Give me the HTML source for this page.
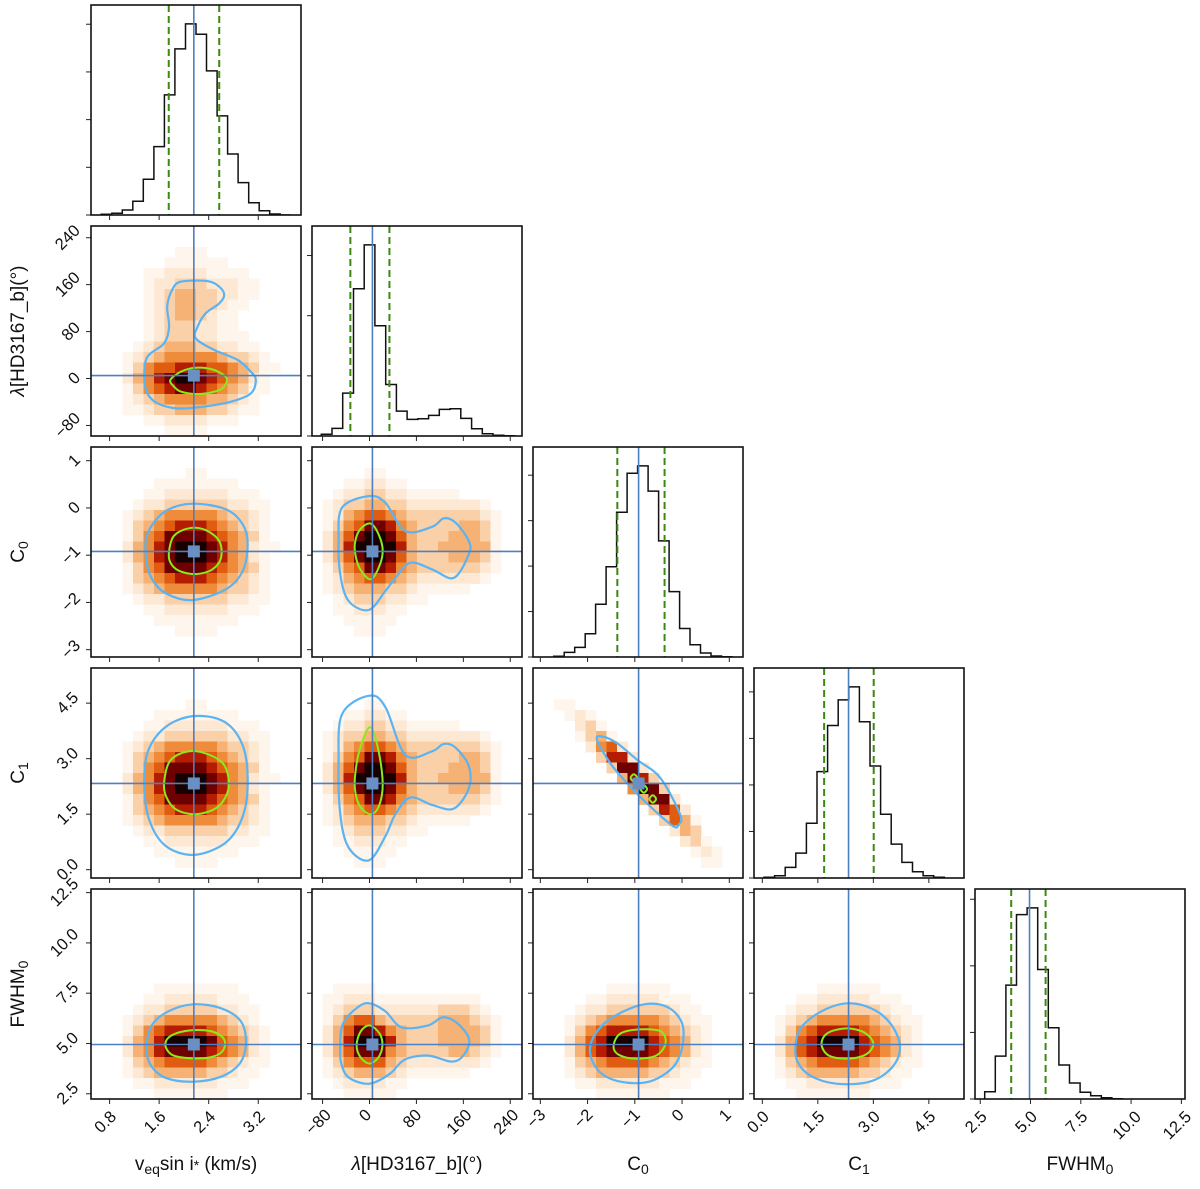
<!DOCTYPE html>
<html><head><meta charset="utf-8"><style>
html,body{margin:0;padding:0;background:#fff;}
svg{display:block;font-family:"Liberation Sans",Arial,sans-serif;}
</style></head><body>
<svg id="corner" width="1200" height="1189" viewBox="0 0 1200 1189" xmlns="http://www.w3.org/2000/svg"></svg>
<script>
// ---------- data ----------
const ranges = [[0.50,3.89],[-98,260],[-3.155,1.29],[-0.225,5.45],[2.24,12.68]];
const truths = [2.16, 5, -0.92, 2.33, 4.95];
const q16 = [1.755, -32.6, -1.37, 1.67, 4.04];
const q84 = [2.57, 34, -0.37, 3.01, 5.75];
const tickVals = [[0.8,1.6,2.4,3.2],[-80,0,80,160,240],[-3,-2,-1,0,1],[0,1.5,3,4.5],[2.5,5,7.5,10,12.5]];
const tickLabels = [["0.8","1.6","2.4","3.2"],["\u221280","0","80","160","240"],["\u22123","\u22122","\u22121","0","1"],["0.0","1.5","3.0","4.5"],["2.5","5.0","7.5","10.0","12.5"]];
const histV = [2,5,15,41,107,205,360,498,573,542,432,297,183,97,37,13,3,0];
const histL = [5,23,129,443,575,332,155,75,50,52,62,80,82,53,22,7,2,1];
const histC0 = [2,14,29,70,159,272,436,554,576,500,350,197,86,37,12,3,1];
const histC1 = [2,7,32,75,165,320,459,536,575,470,337,192,102,47,19,7,2];
const histF = [22,129,342,554,574,389,214,102,48,20,10,4,1];
const histStart = [0.665, -82.2, -2.717, 0.046, 2.72];
const histWidth = [0.170, 18.3, 0.222, 0.2865, 0.527];
const histTickStep = [143, 181, 137, 140, 200];

const grid_1_0 = ["00000000000000000000","00000000000000000000","00000000111000000000","00000001111110000000","00000112222111100000","00000122333222110000","00000123443322110000","00000123443321100000","00000123443211000000","00000123332211000000","00000123332211100000","00001234443322110000","00012345555543321000","00013566777665431100","00024578998765421000","00013567887654311000","00012345555443210000","00011233444332110000","00000112222111000000","00000001111000000000"];
const grid_2_0 = ["00000000000000000000","00000000000000000000","00000000011000000000","00000011111111000000","00000112222221110000","00001223333332211000","00012345555543321000","00013456777654321000","00013568888765431000","00024578999875421100","00024578999875421000","00013568888765431000","00013456777654321000","00012345555543321000","00001223333332211000","00000112222221110000","00000011111111000000","00000000111100000000","00000000000000000000","00000000000000000000"];
const grid_3_0 = ["00000000000000000000","00000000000000000000","00000000000000000000","00000000011000000000","00000011111111000000","00000112222221110000","00001223333332211000","00012345555543321000","00013456777654321000","00013568888765431000","00024578999875421100","00024578999875421000","00013568888765431000","00013456777654321000","00012345555543321000","00001223333332211000","00000112222221110000","00000011111111000000","00000000111100000000","00000000000000000000"];
const grid_4_0 = ["00000000000000000000","00000000000000000000","00000000000000000000","00000000000000000000","00000000000000000000","00000000000000000000","00000000000000000000","00000000000000000000","00000000000000000000","00000011111111000000","00000112222211100000","00001223333322110000","00012345555543210000","00013567777654321000","00024579999865421000","00024578888765421000","00013456666543211000","00012344444332110000","00001122222211100000","00000011111110000000"];
const grid_2_1 = ["00000000000000000000","00000000000000000000","00000110000000000000","00011221100000000000","00122332211111000000","01233443322222221000","01245665433333332100","01356887543333443100","02468998643334443100","02479999743344444100","02468998643334443100","01356887543333332100","01245665432222221000","01234443321111100000","00123332211000000000","00112221100000000000","00011111000000000000","00001110000000000000","00000000000000000000","00000000000000000000"];
const grid_3_1 = ["00000000000000000000","00000000000000000000","00000000000000000000","00000110000000000000","00011221100000000000","00122332211111000000","01233443322222221000","01245665433333332100","01356887543333443100","02468998643334443100","02479999743344444100","02468998643334443100","01356887543333332100","01245665432222221000","01234443321111100000","00123332211000000000","00112221100000000000","00011111000000000000","00001110000000000000","00000000000000000000"];
const grid_4_1 = ["00000000000000000000","00000000000000000000","00000000000000000000","00000000000000000000","00000000000000000000","00000000000000000000","00000000000000000000","00000000000000000000","00000000000000000000","00111100000000000000","01122211111111110000","01233322222233321000","01356643333344432100","02468875433344443100","02479997433344443100","02468885433334432100","01356664322222221000","01234443211111100000","00122221100000000000","00011111000000000000"];
const grid_3_2 = ["00000000000000000000","00000000000000000000","00000000000000000000","00110000000000000000","00012100000000000000","00002310000000000000","00001341000000000000","00000256200000000000","00000037720000000000","00000003882000000000","00000000487300000000","00000000059830000000","00000000004882000000","00000000000376200000","00000000000036410000","00000000000002430000","00000000000000231000","00000000000000012100","00000000000000001100","00000000000000000000"];
const grid_4_2 = ["00000000000000000000","00000000000000000000","00000000000000000000","00000000000000000000","00000000000000000000","00000000000000000000","00000000000000000000","00000000000000000000","00000000000000000000","00000001111110000000","00000112222211100000","00001223333332110000","00012345555543211000","00013567777654321000","00024679999765421000","00024678888765421000","00013456666543211000","00012344444332110000","00001122222211100000","00000011111110000000"];
const grid_4_3 = ["00000000000000000000","00000000000000000000","00000000000000000000","00000000000000000000","00000000000000000000","00000000000000000000","00000000000000000000","00000000000000000000","00000000000000000000","00000011111100000000","00001122222111000000","00012233333321100000","00123455555432110000","00135677776543210000","00246799997654210000","00246788887654210000","00134566665432110000","00123444443321100000","00011222222111000000","00001111111000000000"];

const blue_1_0 = [[1.95,165],[2.38,166],[2.57,156.5],[2.65,142.4],[2.57,128],[2.35,111],[2.22,88],[2.19,68.5],[2.49,48.6],[2.87,31.5],[3.08,11.6],[3.16,-2.6],[3.08,-25.3],[2.76,-39.5],[2.32,-48],[1.89,-51],[1.57,-42],[1.41,-25.3],[1.36,3],[1.41,37],[1.68,60],[1.76,88],[1.73,122.4],[1.81,151]];
const green_1_0 = [[1.78,-2.6],[1.95,11.6],[2.19,18.4],[2.49,14.5],[2.69,0.2],[2.62,-16.8],[2.43,-24],[2.19,-26.4],[1.95,-22.3],[1.84,-13.7]];
const blue_2_0 = [[1.38,-0.91],[1.43,-0.49],[1.70,-0.07],[2.14,0.09],[2.68,-0.03],[2.95,-0.35],[3.03,-0.77],[2.95,-1.33],[2.68,-1.72],[2.14,-1.95],[1.70,-1.80],[1.46,-1.44]];
const green_2_0 = [[1.76,-0.91],[1.84,-0.59],[2.08,-0.43],[2.35,-0.47],[2.57,-0.70],[2.60,-1.05],[2.46,-1.30],[2.19,-1.40],[1.92,-1.33],[1.78,-1.15]];
const blue_3_0 = [[1.36,2.3],[1.42,3.2],[1.70,3.85],[2.15,4.15],[2.65,4.0],[2.95,3.35],[3.03,2.3],[2.93,1.35],[2.65,0.7],[2.15,0.4],[1.70,0.65],[1.44,1.35]];
const green_3_0 = [[1.68,2.35],[1.78,2.95],[2.08,3.2],[2.42,3.1],[2.66,2.8],[2.72,2.2],[2.55,1.7],[2.2,1.5],[1.88,1.62],[1.72,1.95]];
const blue_4_0 = [[1.40,4.9],[1.48,5.9],[1.75,6.6],[2.15,6.95],[2.6,6.75],[2.92,6.1],[3.0,5.0],[2.9,4.0],[2.6,3.35],[2.15,3.1],[1.7,3.3],[1.45,4.0]];
const green_4_0 = [[1.7,4.95],[1.8,5.4],[2.1,5.65],[2.45,5.6],[2.65,5.2],[2.62,4.6],[2.4,4.3],[2.05,4.28],[1.8,4.45]];
const blue_2_1 = [[-46.9,0.005],[-1.4,0.25],[27,0.11],[61.2,-0.49],[106.8,-0.40],[126.6,-0.22],[146.6,-0.31],[169.3,-0.70],[169.3,-0.98],[143.7,-1.48],[106.8,-1.30],[69.8,-1.16],[44.2,-1.48],[27,-1.76],[-1.4,-2.16],[-35.6,-1.97],[-49.8,-1.41],[-52.7,-0.70]];
const green_2_1 = [[-24.2,-0.70],[-15.6,-0.45],[1.5,-0.33],[15.6,-0.56],[22.5,-0.91],[15.6,-1.27],[1.5,-1.51],[-15.6,-1.30],[-24.2,-0.98]];
const blue_3_1 = [[-46.9,4.2],[-1.4,4.7],[27,4.4],[61.2,3.1],[106.8,3.2],[126.6,3.4],[146.6,3.3],[169.3,2.8],[169.3,2.2],[143.7,1.65],[106.8,1.75],[69.8,1.95],[44.2,1.5],[27,0.9],[-1.4,0.25],[-35.6,0.6],[-49.8,1.5],[-52.7,2.9]];
const green_3_1 = [[-24.2,2.6],[-15.6,3.3],[1.5,3.85],[15.6,3.2],[22.5,2.3],[15.6,1.7],[1.5,1.5],[-15.6,1.7],[-24.2,2.1]];
const blue_4_1 = [[-50,4.9],[-45,6.0],[-20,6.8],[0,7.0],[27,6.6],[55,5.8],[100,5.9],[125,6.3],[150,6.0],[170,5.2],[160,4.4],[140,4.1],[100,4.4],[60,4.2],[35,3.5],[0,3.0],[-35,3.3],[-48,4.0]];
const green_4_1 = [[-22,4.9],[-15,5.6],[0,5.9],[17,5.5],[22,4.9],[15,4.3],[0,4.0],[-15,4.3]];
const blue_3_2 = [[-1.80,3.51],[-1.69,3.60],[-1.38,3.42],[-0.95,2.97],[-0.46,2.48],[-0.04,1.49],[-0.07,1.22],[-0.18,1.17],[-0.60,1.62],[-1.10,2.25],[-1.52,2.88]];
const green_3_2a = [[-1.09,2.48],[-1.02,2.58],[-0.95,2.48],[-1.02,2.38]];
const green_3_2b = [[-0.88,2.18],[-0.81,2.28],[-0.74,2.18],[-0.81,2.08]];
const green_3_2c = [[-0.69,1.91],[-0.62,2.01],[-0.55,1.91],[-0.62,1.81]];
const blue_4_2 = [[-1.95,4.6],[-1.8,5.6],[-1.4,6.4],[-0.8,6.95],[-0.3,6.8],[0.0,6.0],[0.0,4.8],[-0.2,3.8],[-0.7,3.1],[-1.3,3.1],[-1.75,3.6]];
const green_4_2 = [[-1.45,4.9],[-1.3,5.5],[-0.9,5.7],[-0.45,5.6],[-0.35,5.0],[-0.55,4.4],[-1.0,4.25],[-1.35,4.45]];
const blue_4_3 = [[0.9,4.9],[1.05,5.8],[1.6,6.6],[2.3,7.0],[3.0,6.7],[3.5,5.9],[3.72,4.8],[3.5,3.8],[2.9,3.1],[2.0,3.0],[1.3,3.4],[0.95,4.1]];
const green_4_3 = [[1.6,4.95],[1.75,5.5],[2.25,5.75],[2.75,5.55],[3.0,5.0],[2.8,4.45],[2.3,4.25],[1.8,4.4]];

// ---------- drawing ----------
const NS = "http://www.w3.org/2000/svg";
const svg = document.getElementById('corner');
const P = 210, X0 = 91, Y0 = 5, STEP = 221;
const palette = ["none","#fef5ec","#fde8d3","#fad0a8","#f5b274","#ef8c3b","#df5c10","#b51d02","#6e0000","#160000"];
const hists = [histV, histL, histC0, histC1, histF];
const grids = {"1,0":grid_1_0,"2,0":grid_2_0,"3,0":grid_3_0,"4,0":grid_4_0,"2,1":grid_2_1,"3,1":grid_3_1,"4,1":grid_4_1,"3,2":grid_3_2,"4,2":grid_4_2,"4,3":grid_4_3};
const blues = {"1,0":[blue_1_0],"2,0":[blue_2_0],"3,0":[blue_3_0],"4,0":[blue_4_0],"2,1":[blue_2_1],"3,1":[blue_3_1],"4,1":[blue_4_1],"3,2":[blue_3_2],"4,2":[blue_4_2],"4,3":[blue_4_3]};
const greens = {"1,0":[green_1_0],"2,0":[green_2_0],"3,0":[green_3_0],"4,0":[green_4_0],"2,1":[green_2_1],"3,1":[green_3_1],"4,1":[green_4_1],"3,2":[green_3_2a,green_3_2b,green_3_2c],"4,2":[green_4_2],"4,3":[green_4_3]};
const xTitles = ['v<tspan font-size="14" dy="4">eq</tspan><tspan dy="-4">sin i</tspan><tspan font-size="14">*</tspan> (km/s)','<tspan font-style="italic">λ</tspan>[HD3167_b](°)','C<tspan font-size="14" dy="4">0</tspan>','C<tspan font-size="14" dy="4">1</tspan>','FWHM<tspan font-size="14" dy="4">0</tspan>'];

function mk(tag, attrs, parent){
  const e = document.createElementNS(NS, tag);
  for (const k in attrs) e.setAttribute(k, attrs[k]);
  (parent||svg).appendChild(e);
  return e;
}
function sx(c, v){ const r = ranges[c]; return X0 + STEP*c + (v - r[0])/(r[1]-r[0])*P; }
function sy(rw, v){ const r = ranges[rw]; return Y0 + STEP*rw + (1 - (v - r[0])/(r[1]-r[0]))*P; }
function smooth(pts){
  const n = pts.length; let d = "M" + pts[0][0].toFixed(1) + "," + pts[0][1].toFixed(1);
  for (let i=0;i<n;i++){
    const p0=pts[(i-1+n)%n], p1=pts[i], p2=pts[(i+1)%n], p3=pts[(i+2)%n];
    const c1=[p1[0]+(p2[0]-p0[0])/6, p1[1]+(p2[1]-p0[1])/6];
    const c2=[p2[0]-(p3[0]-p1[0])/6, p2[1]-(p3[1]-p1[1])/6];
    d += "C"+c1[0].toFixed(1)+","+c1[1].toFixed(1)+" "+c2[0].toFixed(1)+","+c2[1].toFixed(1)+" "+p2[0].toFixed(1)+","+p2[1].toFixed(1);
  }
  return d + "Z";
}
function textW(s){ return s.length*9.4; }

for (let r=0;r<5;r++){
  for (let c=0;c<=r;c++){
    const L = X0+STEP*c, T = Y0+STEP*r;
    const g = mk('g', {});
    
    
    const clipId = 'clip'+r+c;
    const cp = mk('clipPath', {id: clipId}, g);
    mk('rect', {x:L, y:T, width:P, height:P}, cp);
    const inner = mk('g', {'clip-path':'url(#'+clipId+')'}, g);
    if (r===c){
      const h = hists[c], ymax = Math.max(...h)/0.91;
      let d = "M" + sx(c, histStart[c]).toFixed(1) + "," + (T+P);
      h.forEach((v,i)=>{
        const xa = sx(c, histStart[c]+i*histWidth[c]), xb = sx(c, histStart[c]+(i+1)*histWidth[c]);
        const yy = T + P - v/ymax*P;
        d += "L"+xa.toFixed(1)+","+yy.toFixed(1)+"L"+xb.toFixed(1)+","+yy.toFixed(1);
      });
      d += "L" + sx(c, histStart[c]+h.length*histWidth[c]).toFixed(1) + "," + (T+P);
      const hp = mk('path', {d:d, fill:'none', stroke:'#111', 'stroke-width':1.5}, inner);
      
      
      [q16[c], q84[c]].forEach(q=>{
        const ql = mk('line', {x1:sx(c,q), x2:sx(c,q), y1:T, y2:T+P, stroke:'#3b8a10', 'stroke-width':2, 'stroke-dasharray':'7,4'}, inner);
        
        
      });
      const tl = mk('line', {x1:sx(c,truths[c]), x2:sx(c,truths[c]), y1:T, y2:T+P, stroke:'#4d7fc1', 'stroke-width':1.6}, inner);
      
      
      for (let k=0; k*histTickStep[c] < ymax; k++){
        const yy = T + P - k*histTickStep[c]/ymax*P;
        mk('line', {x1:L-5, x2:L, y1:yy, y2:yy, stroke:'#222', 'stroke-width':1}, g);
      }
    } else {
      const key = r+","+c, grid = grids[key];
      grid.forEach((row, i)=>{
        for (let j=0;j<row.length;j++){
          const lv = +row[j]; if (!lv) continue;
          const cell = mk('rect', {x:(L+j*P/20).toFixed(2), y:(T+i*P/20).toFixed(2), width:(P/20+0.4).toFixed(2), height:(P/20+0.4).toFixed(2), fill:palette[lv]}, inner);
          
          
        }
      });
      blues[key].forEach(ct=>{
        const p = mk('path', {d:smooth(ct.map(q=>[sx(c,q[0]), sy(r,q[1])])), fill:'none', stroke:'#5ab3f2', 'stroke-width':2.2}, inner);
        
        
      });
      greens[key].forEach(ct=>{
        const p = mk('path', {d:smooth(ct.map(q=>[sx(c,q[0]), sy(r,q[1])])), fill:'none', stroke:'#8aea1c', 'stroke-width':2}, inner);
        
        
      });
      const tx = sx(c,truths[c]), ty = sy(r,truths[r]);
      const vl = mk('line', {x1:tx, x2:tx, y1:T, y2:T+P, stroke:'#4d7fc1', 'stroke-width':1.6}, inner);
      
      
      const hl = mk('line', {x1:L, x2:L+P, y1:ty, y2:ty, stroke:'#4d7fc1', 'stroke-width':1.6}, inner);
      
      
      const sq = mk('rect', {x:tx-6, y:ty-6, width:12, height:12, fill:'#6a8fc2'}, inner);
      
      
      tickVals[r].forEach(v=>{
        const yy = sy(r, v);
        mk('line', {x1:L-5, x2:L, y1:yy, y2:yy, stroke:'#222', 'stroke-width':1}, g);
      });
    }
    const frame = mk('rect', {x:L, y:T, width:P, height:P, fill:'none', stroke:'#111', 'stroke-width':1.6}, g);
    
    
    tickVals[c].forEach(v=>{
      const xx = sx(c, v);
      mk('line', {x1:xx, x2:xx, y1:T+P, y2:T+P+5, stroke:'#222', 'stroke-width':1}, g);
    });
    if (c===0 && r>0){
      tickVals[r].forEach((v,k)=>{
        const s = tickLabels[r][k], w = (textW(s)+12)*0.707;
        const cx = L - 9 - w/2, cy = sy(r, v);
        const t = mk('text', {x:cx, y:cy, 'text-anchor':'middle', 'dominant-baseline':'central', 'font-size':16.5, fill:'#111', transform:'rotate(-45 '+cx+' '+cy+')'});
        t.textContent = s;
        
        
      });
    }
    if (r===4){
      tickVals[c].forEach((v,k)=>{
        const s = tickLabels[c][k], w = (textW(s)+12)*0.707;
        const cx = sx(c, v) - 4, cy = T + P + 9 + w/2;
        const t = mk('text', {x:cx, y:cy, 'text-anchor':'middle', 'dominant-baseline':'central', 'font-size':16.5, fill:'#111', transform:'rotate(-45 '+cx+' '+cy+')'});
        t.textContent = s;
        
        
      });
    }
  }
}
for (let c=0;c<5;c++){
  const t = mk('text', {x:X0+STEP*c+P/2, y:1170, 'text-anchor':'middle', 'font-size':19, fill:'#111'});
  t.innerHTML = xTitles[c];
  
  
}
for (let r=1;r<5;r++){
  const cy = Y0+STEP*r+P/2;
  const t = mk('text', {x:24, y:cy, 'text-anchor':'middle', 'font-size':19, fill:'#111', transform:'rotate(-90 24 '+cy+')'});
  t.innerHTML = xTitles[r];
  
  
}
</script>
</body></html>
